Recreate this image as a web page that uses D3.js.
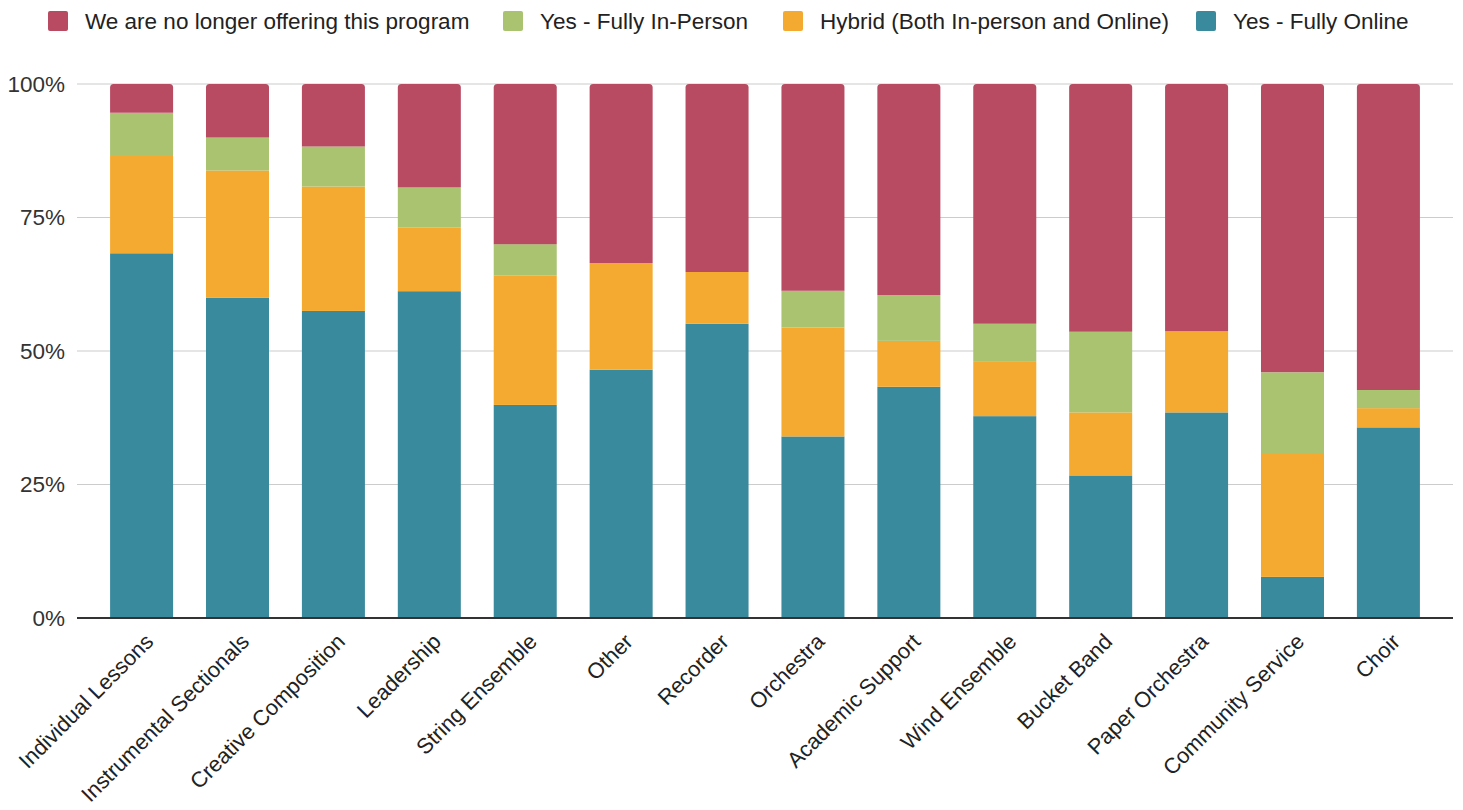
<!DOCTYPE html>
<html>
<head>
<meta charset="utf-8">
<script src="https://cdn.jsdelivr.net/npm/d3@7"></script>
<style>
  html, body { margin: 0; padding: 0; background: #fff; }
  svg { display: block; font-family: "Liberation Sans", Arial, sans-serif; }
</style>
</head>
<body>
<svg id="chart" width="1463" height="810"></svg>
<script>
// Programs and the share (%) of responses for each delivery status
const categories = [
  "Individual Lessons", "Instrumental Sectionals", "Creative Composition", "Leadership",
  "String Ensemble", "Other", "Recorder", "Orchestra", "Academic Support",
  "Wind Ensemble", "Bucket Band", "Paper Orchestra", "Community Service", "Choir"
];
const fullyOnline = [68.3, 60.0, 57.5, 61.2, 39.9, 46.5, 55.1, 34.0, 43.3, 37.8, 26.7, 38.5, 7.7, 35.7];
const hybrid      = [18.4, 23.8, 23.3, 11.9, 24.2, 20.0, 9.7, 20.4, 8.6, 10.3, 11.8, 15.2, 23.2, 3.6];
const inPerson    = [7.9, 6.2, 7.5, 7.5, 5.9, 0, 0, 6.9, 8.6, 7.0, 15.1, 0, 15.1, 3.4];
const noLonger    = [5.4, 10.0, 11.7, 19.4, 30.0, 33.5, 35.2, 38.7, 39.5, 44.9, 46.4, 46.3, 54.0, 57.3];

const seriesNames = [
  "Yes - Fully Online",
  "Hybrid (Both In-person and Online)",
  "Yes - Fully In-Person",
  "We are no longer offering this program"
];
const legendOrder = [3, 2, 1, 0];
const yTicks = [0, 25, 50, 75, 100];
const tickLabels = ["0%", "25%", "50%", "75%", "100%"];

const colors = ["#3a8a9e", "#f4aa31", "#a9c371", "#b84a62"];
const fontSize = 22.5;

// Build rows for the stack layout
const keys = ["online", "hybrid", "inperson", "nolonger"];
const rows = categories.map((c, i) => ({
  category: c,
  online: fullyOnline[i],
  hybrid: hybrid[i],
  inperson: inPerson[i],
  nolonger: noLonger[i]
}));
const stacked = d3.stack().keys(keys)(rows);

const svg = d3.select("#chart");
const plotLeft = 77, plotRight = 1453, plotTop = 84, plotBottom = 618;

const x = d3.scaleBand().domain(categories).range([plotLeft, plotRight]).paddingInner(0.343).paddingOuter(0.345);
const y = d3.scaleLinear().domain([0, 100]).range([plotBottom, plotTop]);

// Horizontal gridlines
svg.append("g").selectAll("line")
  .data(yTicks.filter(t => t > 0))
  .join("line")
  .attr("x1", plotLeft).attr("x2", plotRight)
  .attr("y1", d => y(d)).attr("y2", d => y(d))
  .attr("stroke", "#cccccc").attr("stroke-width", 1.2);

// Y axis labels
const yAxis = d3.axisLeft(y).tickValues(yTicks).tickFormat((d, i) => tickLabels[i]).tickSize(0).tickPadding(12);
const yg = svg.append("g").attr("transform", `translate(${plotLeft},0)`).call(yAxis);
yg.select(".domain").remove();
yg.selectAll("text").attr("font-size", fontSize).attr("fill", "#333").attr("font-family", "Liberation Sans, Arial, sans-serif");

// Stacked bars; the top segment of each bar gets rounded upper corners
const bw = x.bandwidth();
const r = 3.5;
stacked.forEach((layer, li) => {
  const g = svg.append("g").attr("fill", colors[li]);
  layer.forEach((d, i) => {
    const h = d[1] - d[0];
    if (h <= 0) return;
    const x0 = x(categories[i]);
    const yTop = y(d[1]), yBot = y(d[0]);
    if (li === keys.length - 1) {
      g.append("path").attr("d",
        `M${x0},${yBot}V${yTop + r}Q${x0},${yTop} ${x0 + r},${yTop}` +
        `H${x0 + bw - r}Q${x0 + bw},${yTop} ${x0 + bw},${yTop + r}V${yBot}Z`);
    } else {
      g.append("rect").attr("x", x0).attr("y", yTop).attr("width", bw).attr("height", yBot - yTop);
    }
  });
});

// Baseline
svg.append("line")
  .attr("x1", plotLeft).attr("x2", plotRight)
  .attr("y1", y(0)).attr("y2", y(0))
  .attr("stroke", "#333").attr("stroke-width", 2);

// Category labels, rotated
const xAxis = d3.axisBottom(x).tickSize(0).tickPadding(0);
const xg = svg.append("g").attr("transform", `translate(0,${plotBottom})`).call(xAxis);
xg.select(".domain").remove();
xg.selectAll("text")
  .attr("font-size", 21.8)
  .attr("fill", "#222")
  .attr("font-family", "Liberation Sans, Arial, sans-serif")
  .attr("text-anchor", "end")
  .attr("dy", null)
  .attr("y", 0)
  .attr("transform", "translate(13,25) rotate(-45)");

// Legend
const legendX = [48, 503, 783, 1196];
const legend = svg.append("g");
legendOrder.forEach((si, k) => {
  const item = legend.append("g").attr("transform", `translate(${legendX[k]},0)`);
  item.append("rect").attr("x", 0).attr("y", 11).attr("width", 20).attr("height", 20).attr("rx", 2)
    .attr("fill", colors[si]);
  item.append("text").attr("x", 37).attr("y", 29)
    .attr("font-size", fontSize).attr("fill", "#222")
    .text(seriesNames[si]);
});
</script>
</body>
</html>
